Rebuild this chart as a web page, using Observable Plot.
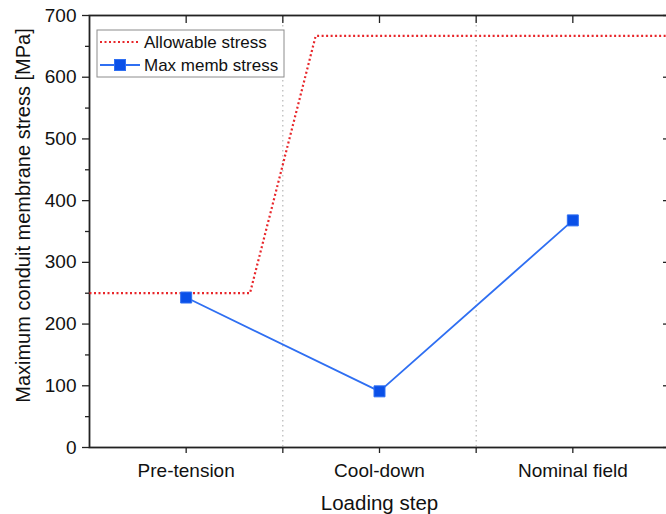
<!DOCTYPE html>
<html>
<head>
<meta charset="utf-8">
<script src="https://cdn.jsdelivr.net/npm/d3@7"></script>
<script src="https://cdn.jsdelivr.net/npm/@observablehq/plot@0.6"></script>
<style>
  html, body { margin: 0; padding: 0; background: #fff; overflow: hidden; }
  #chart { width: 666px; height: 514px; overflow: hidden; }
  #chart svg { max-width: none !important; }
</style>
</head>
<body>
<div id="chart"></div>
<script>
// ---- data ----
const categories = ["Pre-tension", "Cool-down", "Nominal field"];
const maxMembStress = [243, 91, 368];
// allowable stress curve (x in category units, 0 = Pre-tension, 1 = Cool-down, 2 = Nominal field)
const allowableX = [-0.5, 0.33, 0.67, 2.5];
const allowableY = [250, 250, 667, 667];
const separators = [0.5, 1.5];
const yMajorTicks = [0, 100, 200, 300, 400, 500, 600, 700];
const yMinorTicks = [50, 150, 250, 350, 450, 550, 650];
const seriesNames = ["Allowable stress", "Max memb stress"];
const xTitle = "Loading step";
const yTitle = "Maximum conduit membrane stress [MPa]";

const RED = "#e8262a";
const BLUE_LINE = "#2f6ff2";
const BLUE_FILL = "#0a50e8";
const FONT = "'Liberation Sans', Arial, sans-serif";
const DOTS = "2,2.5";

const memb = categories.map((c, i) => ({x: i, y: maxMembStress[i], c}));
const allow = allowableX.map((x, i) => ({x, y: allowableY[i]}));

function legendMark(index, scales, values, dimensions) {
  const g = d3.create("svg:g").attr("font-family", FONT).attr("text-anchor", "start");
  const x0 = dimensions.marginLeft + 8, y0 = dimensions.marginTop + 15;
  g.append("rect").attr("x", x0).attr("y", y0).attr("width", 187).attr("height", 47)
    .attr("fill", "white").attr("stroke", "#8c8c8c").attr("stroke-width", 1);
  // entry 1: dotted red
  g.append("line").attr("x1", x0 + 3).attr("x2", x0 + 43).attr("y1", y0 + 12).attr("y2", y0 + 12)
    .attr("stroke", RED).attr("stroke-width", 2.2).attr("stroke-dasharray", DOTS).attr("stroke-linecap", "butt");
  g.append("text").attr("x", x0 + 47).attr("y", y0 + 18).attr("font-size", 17).attr("fill", "#111")
    .attr("text-anchor", "start").text(seriesNames[0]);
  // entry 2: blue line + square
  g.append("line").attr("x1", x0 + 3).attr("x2", x0 + 43).attr("y1", y0 + 35).attr("y2", y0 + 35)
    .attr("stroke", BLUE_LINE).attr("stroke-width", 1.8);
  g.append("rect").attr("x", x0 + 23 - 5.5).attr("y", y0 + 35 - 5.5).attr("width", 11).attr("height", 11)
    .attr("fill", BLUE_FILL).attr("stroke", BLUE_LINE);
  g.append("text").attr("x", x0 + 47).attr("y", y0 + 41).attr("font-size", 17).attr("fill", "#111")
    .attr("text-anchor", "start").text(seriesNames[1]);
  return g.node();
}

const chart = Plot.plot({
  width: 672,
  height: 514,
  marginLeft: 89,
  marginRight: 3,
  marginTop: 15,
  marginBottom: 67,
  style: {fontFamily: FONT, color: "#111", background: "white", overflow: "visible", maxWidth: "none"},
  x: {type: "linear", domain: [-0.5, 2.5]},
  y: {domain: [0, 700]},
  marks: [
    Plot.ruleX(separators, {stroke: "#a8a8a8", strokeWidth: 1, strokeDasharray: "1.5,3.5"}),
    // axes
    Plot.axisY({ticks: yMajorTicks, tickSize: 7, tickPadding: 6, fontSize: 19, label: null, stroke: "#222", strokeWidth: 1.3}),
    Plot.axisY({ticks: yMinorTicks, tickSize: 4, text: null, label: null, stroke: "#222", strokeWidth: 1.3}),
    Plot.axisY({anchor: "right", ticks: yMajorTicks, tickSize: -7, text: null, label: null, stroke: "#222", strokeWidth: 1.3}),
    Plot.axisY({anchor: "right", ticks: yMinorTicks, tickSize: -4, text: null, label: null, stroke: "#222", strokeWidth: 1.3}),
    Plot.axisX({ticks: [0, 1, 2], tickFormat: i => categories[i], tickSize: 6, tickPadding: 9.5, fontSize: 19, label: null, stroke: "#222", strokeWidth: 1.3}),
    Plot.axisX({ticks: separators, tickSize: 6, text: null, label: null, stroke: "#222", strokeWidth: 1.3}),
    Plot.axisX({anchor: "top", ticks: [0, 0.5, 1, 1.5, 2], tickSize: -7, text: null, label: null, stroke: "#222", strokeWidth: 1.3}),
    Plot.frame({stroke: "#222", strokeWidth: 1.8}),
    // data
    Plot.line(allow, {x: "x", y: "y", stroke: RED, strokeWidth: 2.2, strokeDasharray: DOTS, strokeLinecap: "butt", strokeLinejoin: "miter"}),
    Plot.line(memb, {x: "x", y: "y", stroke: BLUE_LINE, strokeWidth: 1.8}),
    Plot.dot(memb, {x: "x", y: "y", symbol: "square", r: 6.2, fill: BLUE_FILL, stroke: BLUE_LINE, strokeWidth: 1}),
    // titles
    Plot.text([xTitle], {frameAnchor: "bottom", dy: 56, fontSize: 20.5, fill: "#111", lineAnchor: "middle", textAnchor: "middle"}),
    Plot.text([yTitle], {frameAnchor: "left", rotate: -90, dx: -66, dy: -16, fontSize: 20, fill: "#111", lineAnchor: "middle", textAnchor: "middle"}),
    legendMark
  ]
});
document.getElementById("chart").appendChild(chart);
</script>
</body>
</html>
